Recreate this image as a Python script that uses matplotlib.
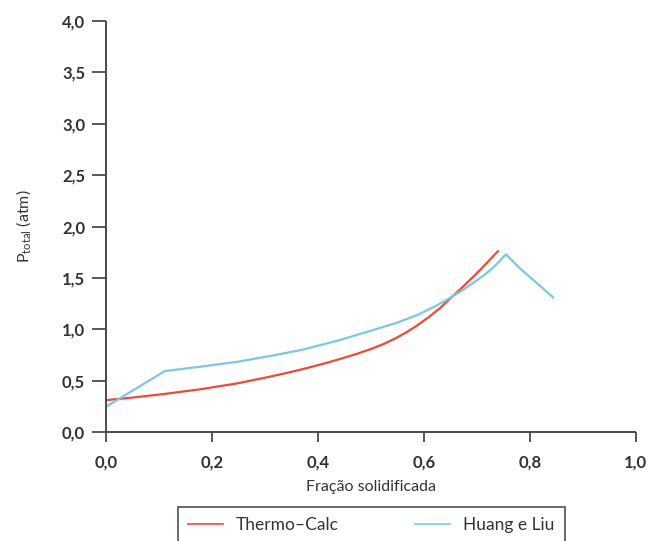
import matplotlib
matplotlib.use("Agg")
import matplotlib.pyplot as plt
from matplotlib.ticker import FixedLocator, FuncFormatter

plt.rcParams["font.family"] = ["Lato", "DejaVu Sans"]

# Thermo-Calc prediction
tc_x = [0.0, 0.05, 0.11, 0.177, 0.25, 0.309, 0.34, 0.37, 0.405, 0.4415, 0.475, 0.504,
        0.527, 0.55, 0.568, 0.586, 0.608, 0.63, 0.649, 0.668, 0.705, 0.74]
tc_y = [0.31, 0.335, 0.37, 0.415, 0.475, 0.538, 0.573, 0.61, 0.657, 0.710, 0.763, 0.815,
        0.863, 0.921, 0.973, 1.032, 1.113, 1.203, 1.295, 1.385, 1.57, 1.76]

# Huang e Liu model
hl_x = [0.0, 0.111, 0.177, 0.25, 0.309, 0.37, 0.4415, 0.504, 0.55, 0.586, 0.62, 0.648,
        0.67, 0.693, 0.715, 0.735, 0.755, 0.78, 0.80, 0.82, 0.844]
hl_y = [0.245, 0.593, 0.635, 0.685, 0.739, 0.80, 0.895, 0.992, 1.065, 1.135, 1.22, 1.30,
        1.37, 1.45, 1.53, 1.62, 1.73, 1.60, 1.51, 1.42, 1.31]

x_ticks = [0.0, 0.2, 0.4, 0.6, 0.8, 1.0]
y_ticks = [0.0, 0.5, 1.0, 1.5, 2.0, 2.5, 3.0, 3.5, 4.0]
series_labels = ["Thermo\u2013Calc", "Huang e Liu"]

fig = plt.figure(figsize=(6.54, 5.41), dpi=100)
ax = fig.add_axes([0.162, 0.2015, 0.81, 0.7595])

ax.plot(tc_x, tc_y, color="#ee4a36", lw=1.6, label=series_labels[0])
ax.plot(hl_x, hl_y, color="#7cc6e6", lw=1.6, label=series_labels[1])

ax.set_xlim(0, 1.0)
ax.set_ylim(0, 4.0)

comma = FuncFormatter(lambda v, p: f"{v:.1f}".replace(".", ","))
ax.xaxis.set_major_locator(FixedLocator(x_ticks))
ax.yaxis.set_major_locator(FixedLocator(y_ticks))
ax.xaxis.set_major_formatter(comma)
ax.yaxis.set_major_formatter(comma)

for side in ("top", "right"):
    ax.spines[side].set_visible(False)
for side in ("left", "bottom"):
    ax.spines[side].set_color("#4a4a4a")
    ax.spines[side].set_linewidth(1.4)
    ax.spines[side].set_capstyle("butt")

ax.tick_params(axis="y", direction="out", length=10, width=1.3, color="#4a4a4a",
               labelsize=12, labelcolor="#333333", pad=5)
ax.tick_params(axis="x", direction="out", length=7, width=1.3, color="#4a4a4a",
               labelsize=12, labelcolor="#333333", pad=9)
for lab in ax.get_xticklabels() + ax.get_yticklabels():
    lab.set_fontweight("bold")

ax.set_xlabel("Fra\u00e7\u00e3o solidificada", fontsize=11.5, color="#333333", labelpad=7)
ax.set_ylabel(r"P$_{\mathregular{total}}$ (atm)", fontsize=11.5, color="#333333", labelpad=20)

# legend box below the axes, stretched to a fixed width
leg = fig.legend(loc="upper left", bbox_to_anchor=(0.2722, 0.0, 0.5917, 0.0628),
                 mode="expand", ncol=2, frameon=True, fancybox=False, fontsize=12.5,
                 handlelength=2.0, handletextpad=0.75, columnspacing=1.6,
                 borderpad=0.6, borderaxespad=0.0, edgecolor="#222222")
leg.get_frame().set_linewidth(1.2)
for t in leg.get_texts():
    t.set_color("#333333")
for h in leg.get_lines():
    h.set_linewidth(1.2)

fig.savefig("out.png", dpi=100)
